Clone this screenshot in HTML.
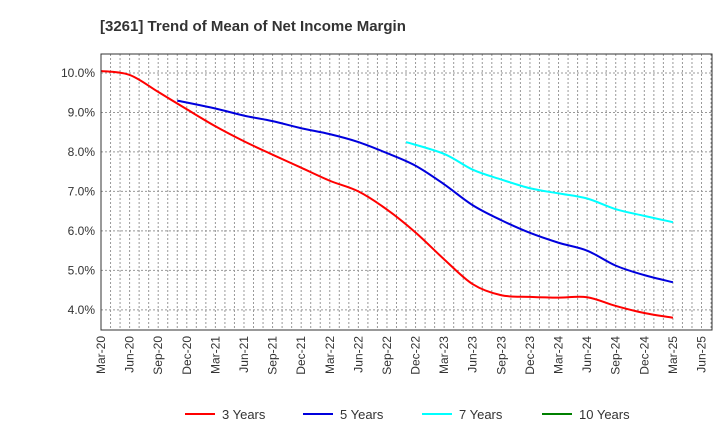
<!DOCTYPE html>
<html><head><meta charset="utf-8"><style>
body{margin:0;background:#fff;font-family:"Liberation Sans",sans-serif}
svg text{font-family:"Liberation Sans",sans-serif}
</style></head><body>
<svg id="c" width="720" height="440" xmlns="http://www.w3.org/2000/svg">
<text x="100" y="31" font-size="15" font-weight="bold" fill="#333">[3261]  Trend of Mean of Net Income Margin</text>
<g id="grid"></g><g id="series"></g><g id="axes"></g>
<g>
<line x1="185" y1="414" x2="215" y2="414" stroke="#ff0000" stroke-width="2"/>
<text x="222" y="419" font-size="13" fill="#333">3 Years</text>
<line x1="303" y1="414" x2="333" y2="414" stroke="#0000dd" stroke-width="2"/>
<text x="340" y="419" font-size="13" fill="#333">5 Years</text>
<line x1="422" y1="414" x2="452" y2="414" stroke="#00ffff" stroke-width="2"/>
<text x="459" y="419" font-size="13" fill="#333">7 Years</text>
<line x1="542" y1="414" x2="572" y2="414" stroke="#008000" stroke-width="2"/>
<text x="579" y="419" font-size="13" fill="#333">10 Years</text>
</g>
</svg>
<script>
const xLabels=["Mar-20","Jun-20","Sep-20","Dec-20","Mar-21","Jun-21","Sep-21","Dec-21","Mar-22","Jun-22","Sep-22","Dec-22","Mar-23","Jun-23","Sep-23","Dec-23","Mar-24","Jun-24","Sep-24","Dec-24","Mar-25","Jun-25"];
const yTicks=[4,5,6,7,8,9,10];
const m3=[0,3,6,9,12,15,18,21,24,27,30,33,36,39,42,45,48,51,54,57,60];
const y3=[10.05,9.95,9.52,9.08,8.65,8.27,7.93,7.6,7.27,7.0,6.54,5.96,5.28,4.65,4.37,4.33,4.31,4.32,4.1,3.92,3.8];
const m5=[8,12,15,18,21,24,27,30,33,36,39,42,45,48,51,54,57,60];
const y5=[9.3,9.1,8.92,8.78,8.6,8.45,8.25,7.97,7.65,7.18,6.65,6.27,5.95,5.7,5.5,5.12,4.88,4.7];
const m7=[32,36,39,42,45,48,51,54,57,60];
const y7=[8.25,7.95,7.55,7.3,7.08,6.95,6.82,6.55,6.38,6.22];
const m10=[];
const y10=[];
const L=101,R=712,T=54,B=330,MMAX=64.1,YMIN=3.49,YMAX=10.48;
const X=m=>L+(R-L)*m/MMAX, Y=v=>B-(B-T)*(v-YMIN)/(YMAX-YMIN);
const NS="http://www.w3.org/2000/svg";
function mk(t,a,p){const e=document.createElementNS(NS,t);for(const k in a)e.setAttribute(k,a[k]);p.appendChild(e);return e;}
const g=document.getElementById('grid'),ax=document.getElementById('axes'),sg=document.getElementById('series');
for(let m=1;m<MMAX;m++){const l=mk('line',{x1:X(m),x2:X(m),y1:T,y2:B,stroke:'#999','stroke-width':1,'stroke-dasharray':'2,2'},g);

}
yTicks.forEach(v=>{const l=mk('line',{x1:L,x2:R,y1:Y(v),y2:Y(v),stroke:'#999','stroke-width':1,'stroke-dasharray':'2,2'},g);


const t=mk('text',{x:L-6,y:Y(v)+4,'font-size':12,'text-anchor':'end',fill:'#333'},ax);t.textContent=v.toFixed(1)+'%';

});
const fr=mk('rect',{x:L,y:T,width:R-L,height:B-T,fill:'none',stroke:'#333','stroke-width':1},ax);


xLabels.forEach((s,i)=>{const x=X(i*3);const t=mk('text',{x:x+4,y:B+6,'font-size':12,'text-anchor':'end',fill:'#333',transform:`rotate(-90 ${x+4} ${B+6})`},ax);t.textContent=s;

});
function path(ms,vals){const p=vals.map((v,i)=>[X(ms[i]),Y(v)]);if(p.length<2)return '';
let d=`M${p[0][0]},${p[0][1]}`;for(let i=0;i<p.length-1;i++){const a=p[i-1]||p[i],b=p[i],c=p[i+1],e=p[i+2]||c;
d+=` C${b[0]+(c[0]-a[0])/6},${b[1]+(c[1]-a[1])/6} ${c[0]-(e[0]-b[0])/6},${c[1]-(e[1]-b[1])/6} ${c[0]},${c[1]}`;}return d;}
[[m3,y3,'#ff0000','series-3-years'],[m5,y5,'#0000dd','series-5-years'],[m7,y7,'#00ffff','series-7-years'],[m10,y10,'#008000','series-10-years']].forEach(([ms,v,c,n])=>{
const d=path(ms,v);if(!d)return;const e=mk('path',{d:d,fill:'none',stroke:c,'stroke-width':2},sg);

});
</script>
</body></html>
